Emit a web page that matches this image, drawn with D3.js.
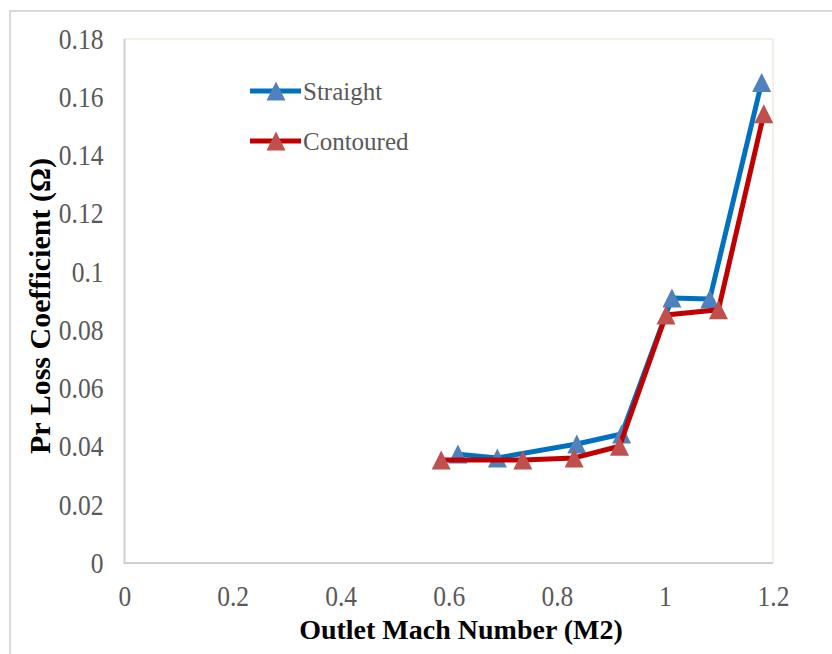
<!DOCTYPE html>
<html>
<head>
<meta charset="utf-8">
<script src="https://cdn.jsdelivr.net/npm/d3@7/dist/d3.min.js"></script>
<style>
  html, body { margin: 0; padding: 0; background: #ffffff; }
  svg { display: block; }
</style>
</head>
<body>
<svg id="chart" width="832" height="654"></svg>
<script>
// Pressure loss coefficient vs outlet Mach number for two cascade geometries
const seriesNames = ["Straight", "Contoured"];
const straightMach = [0.617, 0.690, 0.837, 0.920, 1.013, 1.083, 1.179];
const straightLoss = [0.0374, 0.0361, 0.0409, 0.0443, 0.0910, 0.0907, 0.1651];
const contouredMach = [0.586, 0.737, 0.832, 0.916, 1.002, 1.099, 1.183];
const contouredLoss = [0.0354, 0.0354, 0.0361, 0.0401, 0.0852, 0.0870, 0.1543];

const xTickValues = [0, 0.2, 0.4, 0.6, 0.8, 1, 1.2];
const xTickLabels = ["0", "0.2", "0.4", "0.6", "0.8", "1", "1.2"];
const yTickValues = [0, 0.02, 0.04, 0.06, 0.08, 0.1, 0.12, 0.14, 0.16, 0.18];
const yTickLabels = ["0", "0.02", "0.04", "0.06", "0.08", "0.1", "0.12", "0.14", "0.16", "0.18"];

const xTitle = "Outlet Mach Number (M2)";
const yTitle = "Pr Loss Coefficient (\u03A9)";

const lineColors = ["#0070C0", "#C00000"];
const markerColors = ["#4F81BD", "#C0504D"];

const svg = d3.select("#chart");
const plot = { left: 124.5, right: 773, top: 39, bottom: 563 };

const x = d3.scaleLinear().domain([0, 1.2]).range([plot.left, plot.right]);
const y = d3.scaleLinear().domain([0, 0.18]).range([plot.bottom, plot.top]);

const serif = "'Liberation Serif', 'Times New Roman', Times, serif";
const tickSquash = 0.88;   // narrow tick numerals

// outer chart border
svg.append("path")
  .attr("d", "M10,660 L10,11 L840,11")
  .attr("fill", "none")
  .attr("stroke", "#d9d9d9")
  .attr("stroke-width", 2);

// plot area frame
svg.append("path")
  .attr("d", `M${plot.left},${plot.top} L${plot.right},${plot.top} L${plot.right},${plot.bottom}`)
  .attr("fill", "none")
  .attr("stroke", "#eeebdf")
  .attr("stroke-width", 1.5);
svg.append("path")
  .attr("d", `M${plot.left},${plot.top} L${plot.left},${plot.bottom} L${plot.right},${plot.bottom}`)
  .attr("fill", "none")
  .attr("stroke", "#cfcfcf")
  .attr("stroke-width", 2);

// axes (labels only)
const yAxis = svg.append("g")
  .attr("transform", `translate(${plot.left},0)`)
  .call(d3.axisLeft(y)
    .tickValues(yTickValues)
    .tickFormat((d, i) => yTickLabels[i])
    .tickSize(0)
    .tickPadding(21 / tickSquash));
yAxis.select(".domain").remove();
yAxis.selectAll("text")
  .attr("font-family", serif)
  .attr("font-size", 29)
  .attr("fill", "#595959")
  .attr("transform", `scale(${tickSquash},1)`);

const xAxis = svg.append("g")
  .attr("transform", `translate(0,${plot.bottom})`)
  .call(d3.axisBottom(x)
    .tickValues(xTickValues)
    .tickFormat((d, i) => xTickLabels[i])
    .tickSize(0)
    .tickPadding(22));
xAxis.select(".domain").remove();
xAxis.selectAll("text")
  .attr("font-family", serif)
  .attr("font-size", 29)
  .attr("fill", "#595959")
  .attr("transform", `scale(${tickSquash},1)`);

// axis titles
svg.append("text")
  .attr("x", 461)
  .attr("y", 639)
  .attr("text-anchor", "middle")
  .attr("font-family", serif)
  .attr("font-weight", "bold")
  .attr("font-size", 28)
  .attr("fill", "#000")
  .text(xTitle);

svg.append("text")
  .attr("transform", "translate(50,306) rotate(-90)")
  .attr("text-anchor", "middle")
  .attr("font-family", serif)
  .attr("font-weight", "bold")
  .attr("font-size", 30)
  .attr("fill", "#000")
  .text(yTitle);

// series
const tri = (w, h) => `M0,${-h / 2} L${w / 2},${h / 2} L${-w / 2},${h / 2} Z`;
const line = d3.line().x(d => x(d[0])).y(d => y(d[1]));

const series = [
  d3.zip(straightMach, straightLoss),
  d3.zip(contouredMach, contouredLoss)
];

series.forEach((pts, i) => {
  const g = svg.append("g");
  g.append("path")
    .datum(pts)
    .attr("d", line)
    .attr("fill", "none")
    .attr("stroke", lineColors[i])
    .attr("stroke-width", 5)
    .attr("stroke-linejoin", "round");
  g.selectAll("path.marker")
    .data(pts)
    .join("path")
    .attr("class", "marker")
    .attr("d", tri(19, 19))
    .attr("transform", d => `translate(${x(d[0])},${y(d[1])})`)
    .attr("fill", markerColors[i]);
});

// legend
const legendRows = [91, 141];
seriesNames.forEach((name, i) => {
  const g = svg.append("g").attr("transform", `translate(0,${legendRows[i]})`);
  g.append("line")
    .attr("x1", 250).attr("x2", 301)
    .attr("y1", 0).attr("y2", 0)
    .attr("stroke", lineColors[i])
    .attr("stroke-width", 5);
  g.append("path")
    .attr("d", tri(19, 19))
    .attr("transform", "translate(276,0)")
    .attr("fill", markerColors[i]);
  g.append("text")
    .attr("x", 303)
    .attr("y", 8.5)
    .attr("font-family", serif)
    .attr("font-size", 25)
    .attr("fill", "#595959")
    .text(name);
});
</script>
</body>
</html>
